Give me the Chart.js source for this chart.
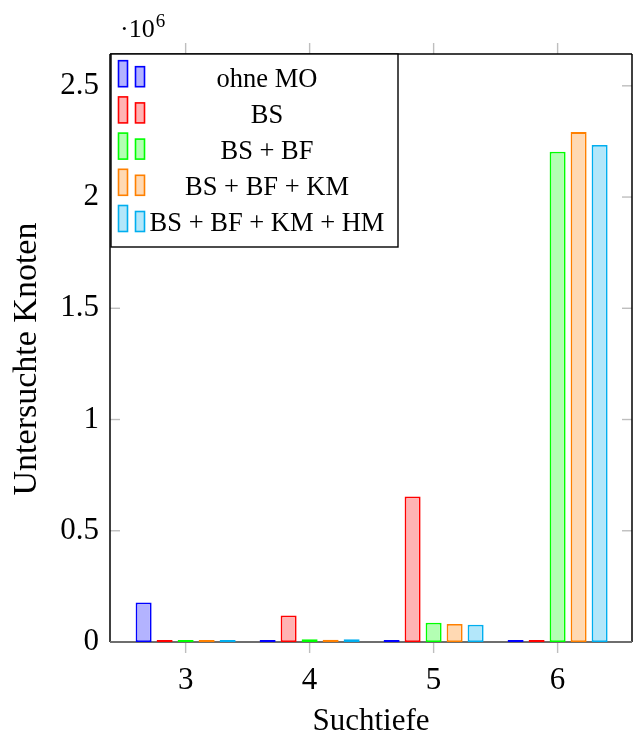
<!DOCTYPE html>
<html>
<head>
<meta charset="utf-8">
<script src="https://cdn.jsdelivr.net/npm/chart.js@4/dist/chart.umd.min.js"></script>
<style>
  html, body { margin: 0; padding: 0; background: #fff; }
  canvas { display: block; }
</style>
</head>
<body>
<canvas id="c" width="638" height="736"></canvas>
<script>
// Search depths on the x axis
const categories = [3, 4, 5, 6];

// Series names (move-ordering variants)
const seriesNames = ['ohne MO', 'BS', 'BS + BF', 'BS + BF + KM', 'BS + BF + KM + HM'];

// Examined nodes per search depth
const ohneMO   = [178000, 0, 0, 0];
const bs       = [7500, 119000, 654000, 0];
const bsBf     = [1500, 12000, 87000, 2204000];
const bsBfKm   = [1300, 10500, 81000, 2292000];
const bsBfKmHm = [1200, 12000, 78000, 2234000];

// Tick values
const xTicks = [3, 4, 5, 6];
const yTicks = [0, 500000, 1000000, 1500000, 2000000, 2500000];

const seriesValues = [ohneMO, bs, bsBf, bsBfKm, bsBfKmHm];
const borderColors = ['#0000ff', '#ff0000', '#00ff00', '#ff8000', '#00aeef'];
const fillColors   = ['#b3b3ff', '#ffb3b3', '#b3ffb3', '#ffd9b3', '#b3e7fa'];

const SERIF = '"Liberation Serif", "Times New Roman", serif';

const datasets = seriesNames.map((name, i) => ({
  label: name,
  data: categories.map((c, j) => ({ x: c, y: seriesValues[i][j] })),
  backgroundColor: fillColors[i],
  borderColor: borderColors[i],
  borderWidth: 1.8,
  borderSkipped: false,
  minBarLength: 2,
  categoryPercentage: 0.847,
  barPercentage: 0.762
}));

function line(ctx, x1, y1, x2, y2) {
  ctx.beginPath();
  ctx.moveTo(x1, y1);
  ctx.lineTo(x2, y2);
  ctx.stroke();
}

// Axis frame and tick marks (x ticks outside, y ticks inside)
const framePlugin = {
  id: 'frame',
  beforeDatasetsDraw(chart) {
    const { ctx, chartArea: { left, top, right, bottom }, scales: { x, y } } = chart;
    ctx.save();
    ctx.strokeStyle = '#bebebe';
    ctx.lineWidth = 1.4;
    x.ticks.forEach(t => {
      const px = x.getPixelForValue(t.value);
      line(ctx, px, bottom, px, bottom + 11);
      line(ctx, px, top - 11, px, top);
    });
    y.ticks.forEach(t => {
      const py = y.getPixelForValue(t.value);
      line(ctx, left, py, left + 10, py);
      line(ctx, right - 10, py, right, py);
    });
    ctx.strokeStyle = '#000';
    ctx.lineWidth = 1.5;
    line(ctx, left, bottom, left, top);
    line(ctx, left, top, right, top);
    line(ctx, right, top, right, bottom);
    ctx.strokeStyle = '#6e6e6e';
    ctx.lineWidth = 1.8;
    line(ctx, left, bottom, right, bottom);
    ctx.restore();
  },
  afterDatasetsDraw(chart) {
    const { ctx, chartArea: { left, top } } = chart;
    ctx.save();

    // Legend box
    const bx = left + 1, by = top, bw = 287, bh = 193;
    ctx.fillStyle = '#fff';
    ctx.fillRect(bx, by, bw, bh);
    ctx.strokeStyle = '#000';
    ctx.lineWidth = 1.4;
    ctx.strokeRect(bx, by, bw, bh);

    const rowH = 36.2;
    ctx.font = '26.5px ' + SERIF;
    ctx.textAlign = 'center';
    ctx.textBaseline = 'middle';
    chart.data.datasets.forEach((ds, i) => {
      const cy = by + 24.7 + i * rowH;
      const base = cy + 8;
      ctx.lineWidth = 1.6;
      // two small bar glyphs
      ctx.fillStyle = ds.backgroundColor;
      ctx.strokeStyle = ds.borderColor;
      ctx.fillRect(bx + 7.5, base - 26, 9, 26);
      ctx.strokeRect(bx + 7.5, base - 26, 9, 26);
      ctx.fillRect(bx + 24.5, base - 20, 9, 20);
      ctx.strokeRect(bx + 24.5, base - 20, 9, 20);
      ctx.fillStyle = '#000';
      ctx.fillText(ds.label, bx + 156, cy + 1);
    });

    // y-axis title
    ctx.save();
    ctx.translate(27, 359);
    ctx.rotate(-Math.PI / 2);
    ctx.font = '34px ' + SERIF;
    ctx.fillStyle = '#000';
    ctx.textAlign = 'center';
    ctx.textBaseline = 'middle';
    ctx.fillText('Untersuchte Knoten', 0, 0);
    ctx.restore();

    // scale factor label
    ctx.fillStyle = '#000';
    ctx.textAlign = 'left';
    ctx.textBaseline = 'alphabetic';
    ctx.font = '26px ' + SERIF;
    ctx.fillText('·10', left + 10, 37);
    const w = ctx.measureText('·10').width;
    ctx.font = '19px ' + SERIF;
    ctx.fillText('6', left + 10 + w + 1, 27);
    ctx.restore();
  }
};

new Chart(document.getElementById('c'), {
  type: 'bar',
  data: { datasets },
  options: {
    responsive: false,
    animation: false,
    devicePixelRatio: 1,
    layout: { padding: { top: 54, right: 6, left: 0, bottom: 0 } },
    plugins: {
      legend: { display: false },
      tooltip: { enabled: false }
    },
    scales: {
      x: {
        type: 'linear',
        min: 2.39,
        max: 6.6,
        offset: false,
        grid: { display: false, drawTicks: false, offset: false },
        border: { display: false },
        afterBuildTicks: scale => { scale.ticks = xTicks.map(v => ({ value: v })); },
        afterFit: scale => { scale.height = 94; },
        ticks: {
          color: '#000',
          padding: 20,
          font: { family: SERIF, size: 31 },
          callback: v => String(v)
        },
        title: {
          display: true,
          text: 'Suchtiefe',
          color: '#000',
          font: { family: SERIF, size: 31, lineHeight: 1 },
          padding: { top: 0, bottom: -1 }
        }
      },
      y: {
        type: 'linear',
        min: 0,
        max: 2643000,
        grid: { display: false, drawTicks: false },
        border: { display: false },
        afterBuildTicks: scale => { scale.ticks = yTicks.map(v => ({ value: v })); },
        afterFit: scale => { scale.width = 110; },
        ticks: {
          color: '#000',
          padding: 11,
          font: { family: SERIF, size: 31 },
          callback: v => String(v / 1e6)
        }
      }
    }
  },
  plugins: [framePlugin]
});
</script>
</body>
</html>
